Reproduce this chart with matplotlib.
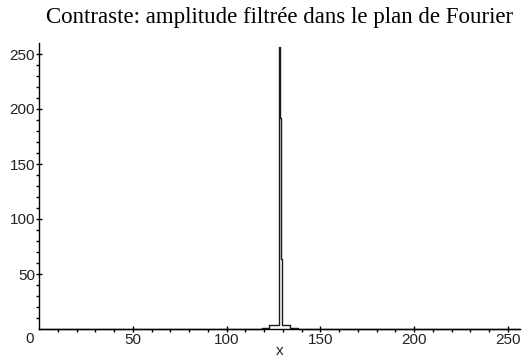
import matplotlib.pyplot as plt
import numpy as np

# amplitude profile (step-like curve around x = 128)
x = [0, 118.7, 118.7, 122.7, 122.7, 127.9, 127.9, 128.4, 128.4, 128.8,
     128.8, 129.2, 129.2, 129.6, 129.6, 133.8, 133.8, 138.2, 138.2, 256]
y = [0, 0, 1.2, 1.2, 3.3, 3.3, 256, 256, 192, 192,
     128, 128, 64, 64, 3.3, 3.3, 1.2, 1.2, 0, 0]

xticks = [50, 100, 150, 200, 250]
yticks = [50, 100, 150, 200, 250]

W, H = 522, 358
fig = plt.figure(figsize=(W / 100, H / 100), dpi=100)
ax = fig.add_axes([39 / W, 29 / H, (520 - 39) / W, (329 - 43) / H])

ax.plot(x, y, color="#1a1a1a", lw=1.0, clip_on=False)
ax.set_xlim(0, 256.4)
ax.set_ylim(0, 260)

for s in ["top", "right"]:
    ax.spines[s].set_visible(False)
for s in ["left", "bottom"]:
    ax.spines[s].set_linewidth(1.0)
    ax.spines[s].set_color("black")

ax.set_xticks(xticks)
ax.set_yticks(yticks)
ax.set_xticks(np.arange(10, 256, 10), minor=True)
ax.set_yticks(np.arange(10, 260, 10), minor=True)

lab = dict(family="Liberation Sans", size=11, color="#222222")
ax.set_xticklabels([str(t) for t in xticks], **lab)
ax.set_yticklabels([str(t) for t in yticks], **lab)
ax.tick_params(which="major", direction="inout", length=4.3, width=1.0, pad=0.8)
ax.tick_params(which="minor", direction="out", length=2.0, width=1.0)

ax.annotate("0", xy=(0, 0), xytext=(-6.5, -7.5), textcoords="offset points",
            ha="center", va="center", annotation_clip=False, **lab)
ax.set_xlabel("x", labelpad=-2.5, **lab)

fig.text(280 / W, 1 - 17 / H,
         "Contraste: amplitude filtrée dans le plan de Fourier",
         family="Liberation Serif", size=16.5, ha="center", va="center")

fig.savefig("out.png", dpi=100)
